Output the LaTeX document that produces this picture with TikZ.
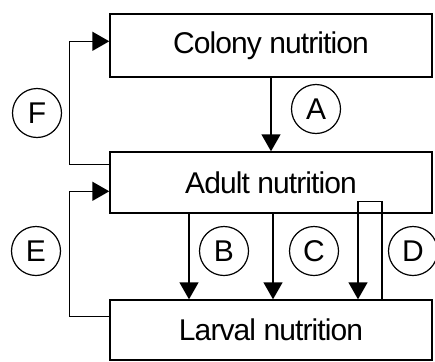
\documentclass[tikz,border=0pt]{standalone}
\usepackage{fontspec}
\setmainfont{Liberation Sans}[LetterSpace=-3]
\usetikzlibrary{arrows.meta,calc}
\begin{document}
\begin{tikzpicture}[x=1pt,y=-1pt,
  box/.style={draw,line width=1.4pt,minimum width=322pt,inner sep=0pt,font=\fontsize{30}{30}\selectfont},
  lbl/.style={draw,circle,line width=1.2pt,minimum size=49pt,inner sep=0pt,font=\fontsize{30}{30}\selectfont},
  arr/.style={line width=1.4pt,-{Triangle[length=17pt,width=19pt]}},
  ln/.style={line width=1.4pt}]
\useasboundingbox (0,0) rectangle (435,361);
\clip (0,0) rectangle (435,361);
\node[box,minimum height=63pt] (colony) at (271,45.5) {Colony nutrition};
\node[box,minimum height=61pt] (adult) at (271,182.5) {Adult nutrition};
\node[box,minimum height=60pt] (larval) at (271,330) {Larval nutrition};
% A
\draw[arr] (colony.south) -- (adult.north);
% B, C, D
\draw[arr] ([xshift=-82pt]adult.south) -- ([xshift=-82pt]larval.north);
\draw[arr] ([xshift=2pt]adult.south) -- ([xshift=2pt]larval.north);
\draw[arr] ([xshift=111pt]larval.north) |- ([xshift=87pt,yshift=12pt]adult.south) -- ([xshift=87pt]larval.north);
% F, E loops
\draw[arr] ([yshift=-13pt]adult.north west) -- ++(-40,0) |- ([yshift=-28pt]colony.north west);
\draw[arr] ([yshift=-17pt]larval.north west) -- ++(-40,0) |- ([yshift=-40pt]adult.north west);
% labels
\node[lbl] (lA) at (316,109) {A};
\node[lbl] (lF) at (37,113) {F};
\node[lbl] (lE) at (36,251) {E};
\node[lbl] (lB) at (224,251) {B};
\node[lbl] (lC) at (314,251) {C};
\node[lbl] (lD) at (413,251) {D};
\end{tikzpicture}
\end{document}
